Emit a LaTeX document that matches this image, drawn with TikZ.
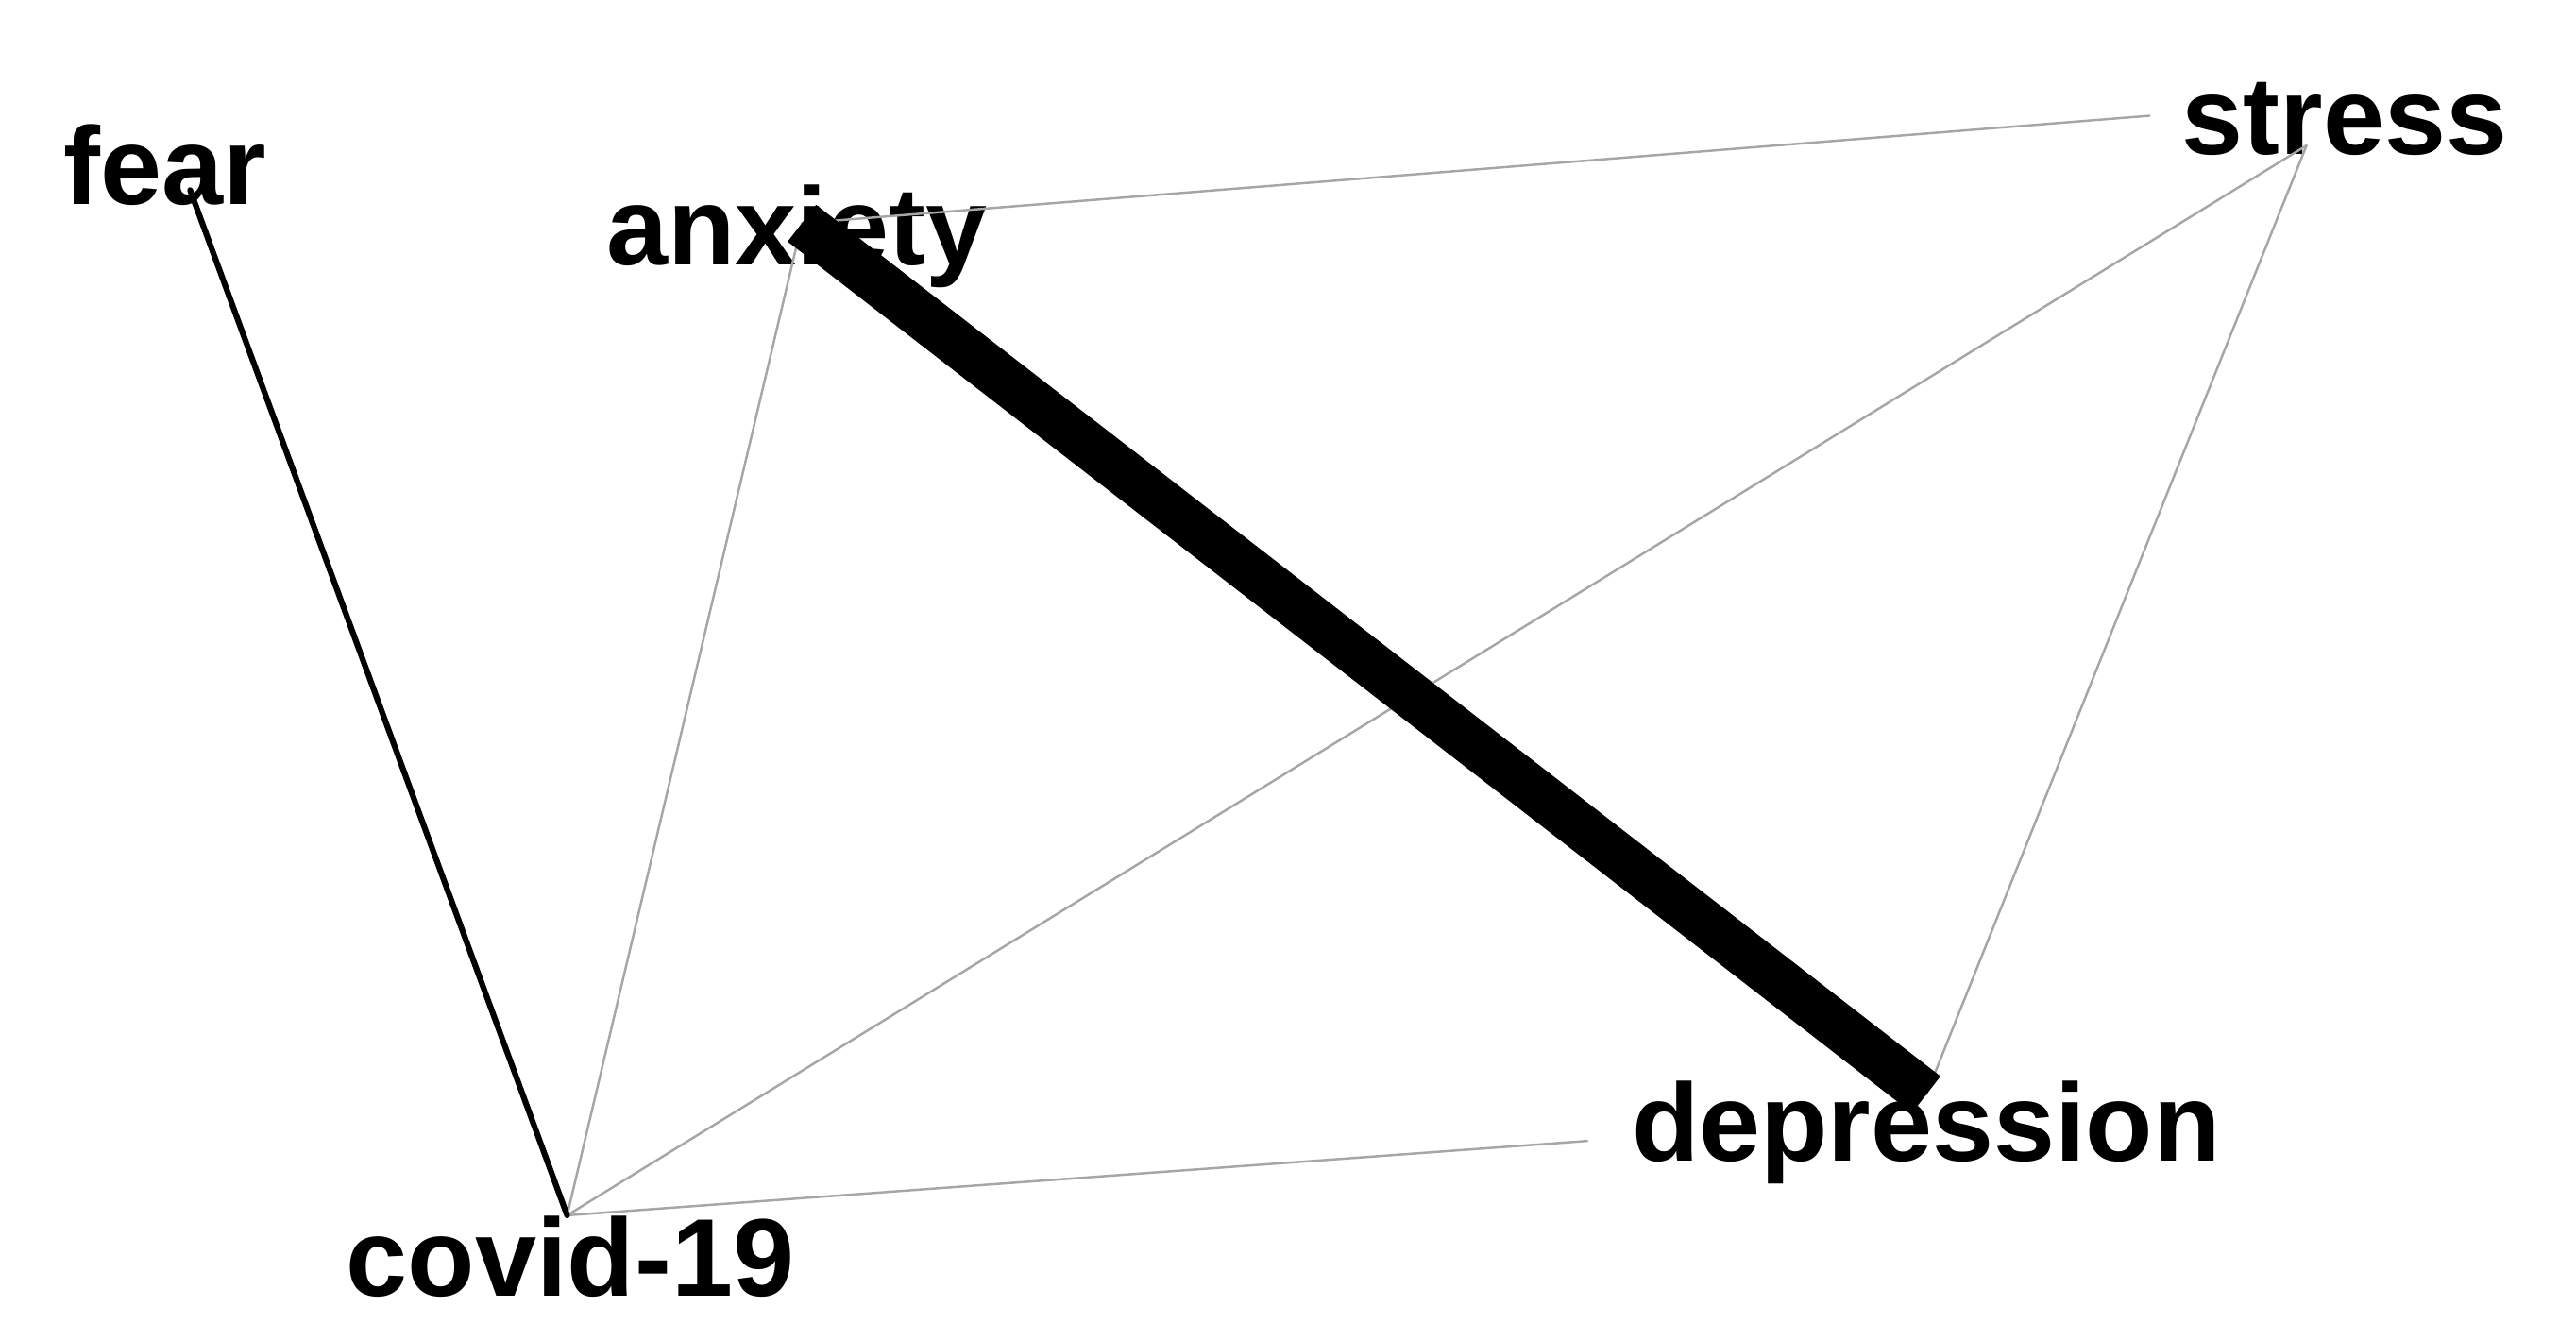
\documentclass[tikz,border=0pt]{standalone}
\usepackage{fontspec}
\setmainfont{Liberation Sans}
\begin{document}
\begin{tikzpicture}[x=0.02cm,y=-0.02cm,
 lbl/.style={font=\bfseries\fontsize{38}{40}\selectfont,inner sep=0pt},
 thin edge/.style={draw=gray!70,line width=0.8pt},
 line cap=round]
\useasboundingbox (0,0) rectangle (1558,810);
\node[lbl] (lfear) at (100,100) {fear};
\node[lbl] (lanx) at (482,143) {anxiety};
\node[lbl] (lstress) at (1418,72) {stress};
\node[lbl] (ldep) at (1165,685) {depression};
\node[lbl] (lcov) at (345,760) {covid-19};
\coordinate (fear) at (115,115);
\coordinate (anx) at (485,135);
\coordinate (stress) at (1395,88);
\coordinate (dep) at (1165,662);
\coordinate (cov) at (343,735);
\draw[thin edge] (anx) -- (1300,70) coordinate (s1);
\draw[thin edge] (stress) -- (cov);
\draw[thin edge] (stress) -- (dep);
\draw[thin edge] (anx) -- (cov);
\draw[thin edge] (960,690) coordinate (d1) -- (cov);
\draw[black,line width=2pt] (fear) -- (cov);
\draw[black,line width=16pt,line cap=butt] (anx) -- (dep);
\end{tikzpicture}
\end{document}
